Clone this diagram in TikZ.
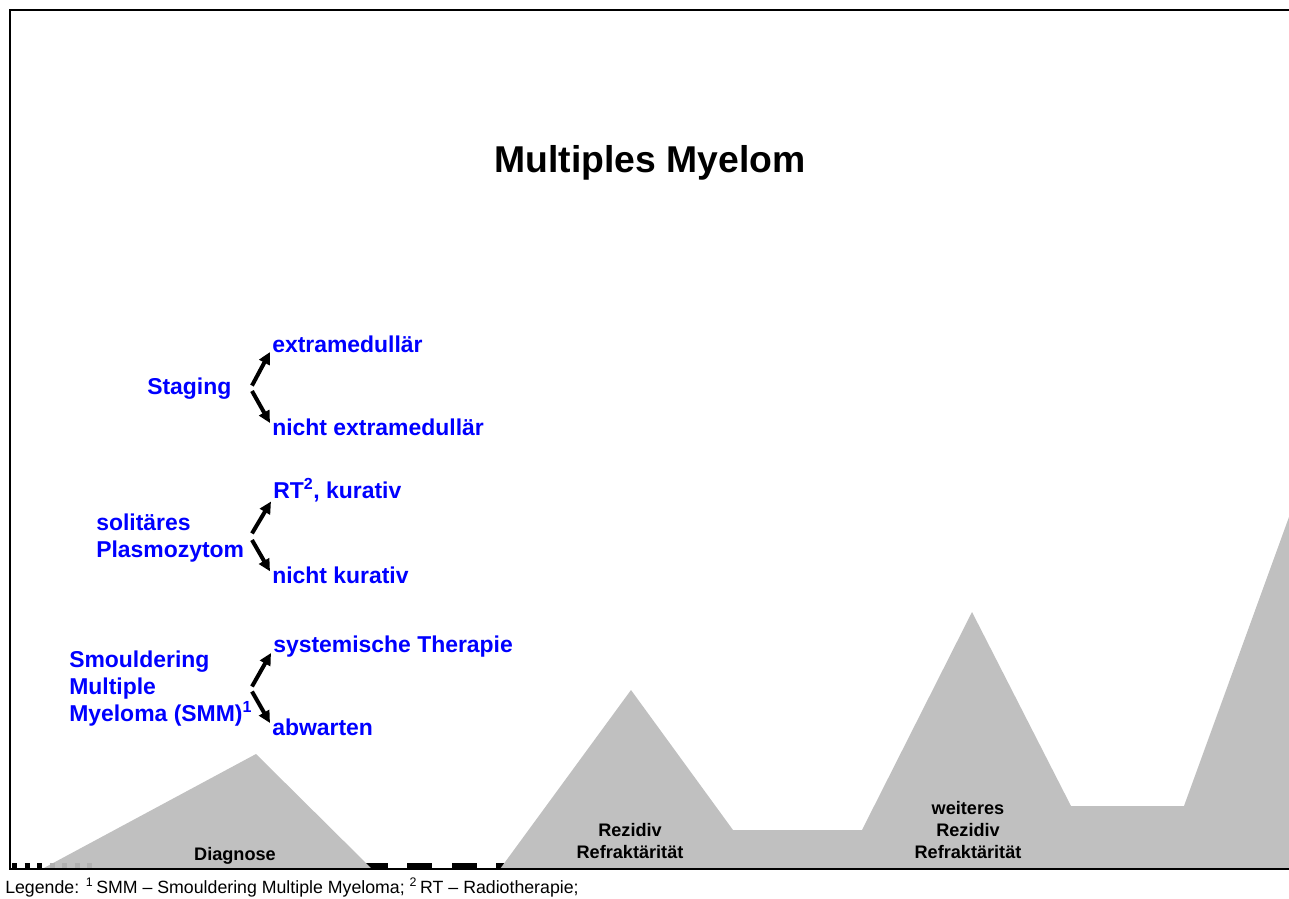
\documentclass[tikz,border=0pt]{standalone}
\usepackage{fontspec}
\setmainfont{Liberation Sans}
\usetikzlibrary{arrows.meta}
\definecolor{peakgray}{RGB}{192,192,192}
\definecolor{optblue}{RGB}{0,0,255}

\begin{document}
\begin{tikzpicture}[x=0.75pt,y=-0.75pt,
  bluetxt/.style={text=optblue,font=\fontsize{17.2}{20}\selectfont\bfseries,
    inner sep=0pt,anchor=base west,align=left},
  peaktxt/.style={font=\fontsize{13.6}{16.5}\selectfont\bfseries,
    inner sep=0pt,anchor=base,align=center},
  fork/.style={line width=3pt,-{Triangle[length=9pt,width=8.5pt]}},
  frameline/.style={black,line cap=rect},
]
\useasboundingbox (0,0) rectangle (1289,899);

% dashed time axis segments (partly hidden by the course shapes)
\draw[line width=3.75pt,dash pattern=on 3.75pt off 5.625pt] (12,865.5) -- (43,865.5);
\draw[line width=3.75pt,dash pattern=on 18.75pt off 14.6pt] (363,865.5) -- (515,865.5);

% disease course shapes
\fill[peakgray] (42,869) -- (256,754) -- (372,869) -- cycle;
\fill[peakgray] (500,869) -- (631,690) -- (733,830) -- (862,830) -- (972,612)
  -- (1071,806) -- (1184,806) -- (1289,517) -- (1289,869) -- cycle;
\draw[gray!62,line width=3.75pt,dash pattern=on 3.75pt off 5.625pt] (49.5,865.5) -- (93,865.5);

% frame
\draw[frameline,line width=1.5pt] (10,10) -- (1289,10);
\draw[frameline,line width=1pt] (10,10) -- (10,869);
\draw[frameline,line width=1.9pt] (10,869) -- (1289,869);

% title
\node[font=\fontsize{28}{34}\selectfont\bfseries,anchor=base] (title) at (650,172) {Multiples Myelom};

% labels inside the course shapes (anchored at the last line's baseline)
\node[peaktxt] (diag) at (235,860) {Diagnose};
\node[peaktxt] (rez1) at (630,858) {Rezidiv\\Refraktärität};
\node[peaktxt] (rez2) at (968,858) {weiteres\\Rezidiv\\Refraktärität};

% decision labels
\node[bluetxt] (staging) at (147,394) {Staging};
\node[bluetxt] (ext) at (272,352) {extramedullär};
\node[bluetxt] (nex) at (272,435) {nicht extramedullär};

\node[bluetxt] (plasmo) at (96,557) {solitäres\\Plasmozytom};
\node[bluetxt] (rt) at (273,498) {RT\textsuperscript{2}, kurativ};
\node[bluetxt] (nk) at (272,583) {nicht kurativ};

\node[bluetxt] (smm) at (69,721) {Smouldering\\Multiple\\Myeloma (SMM)\textsuperscript{1}};
\node[bluetxt] (sys) at (273,652) {systemische Therapie};
\node[bluetxt] (wait) at (272,735) {abwarten};

% branching points
\coordinate (f1) at (252,388.3);
\coordinate (f2) at (252,536.7);
\coordinate (f3) at (252,689);

\draw[fork] ([shift={(0,-2.7)}]f1) -- ([shift={(-2,0)}]ext.base west);
\draw[fork] ([shift={(0,2.7)}]f1) -- ([shift={(-2,-12)}]nex.base west);
\draw[fork] ([shift={(0,-3.3)}]f2) -- ([shift={(-2,3.5)}]rt.base west);
\draw[fork] ([shift={(0,3.3)}]f2) -- ([shift={(-2,-11.7)}]nk.base west);
\draw[fork] ([shift={(0,-2.5)}]f3) -- ([shift={(-2,1)}]sys.base west);
\draw[fork] ([shift={(0,2.5)}]f3) -- ([shift={(-2,-12)}]wait.base west);

% legend
\node[font=\fontsize{13.3}{16}\selectfont,anchor=base west,inner sep=0pt] (legend) at (5,893)
  {Legende: \textsuperscript{1}\,SMM -- Smouldering Multiple Myeloma; \textsuperscript{2}\,RT -- Radiotherapie;};
\end{tikzpicture}
\end{document}
